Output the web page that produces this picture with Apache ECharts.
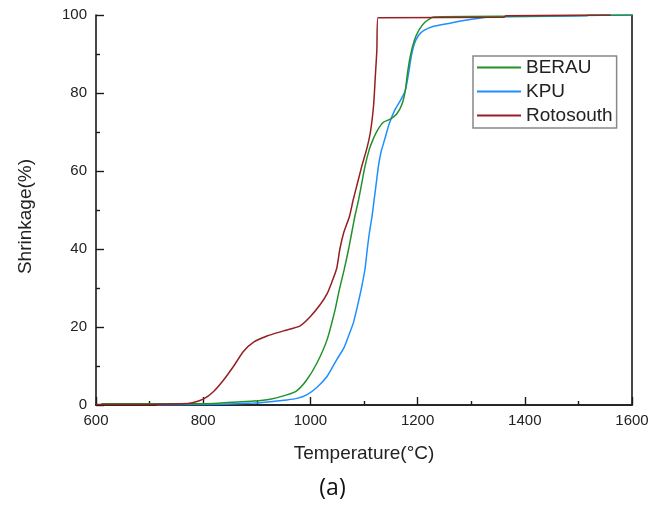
<!DOCTYPE html>
<html>
<head>
<meta charset="utf-8">
<script src="https://cdn.jsdelivr.net/npm/echarts@6/dist/echarts.min.js"></script>
<style>
html,body{margin:0;padding:0;background:#fff;}
#chart{width:665px;height:508px;}
</style>
</head>
<body>
<div id="chart"></div>
<script>
const seriesNames = ['BERAU', 'KPU', 'Rotosouth'];
const xTicks = [600, 800, 1000, 1200, 1400, 1600];
const yTicks = [0, 20, 40, 60, 80, 100];

const berau = [
  [610,0.3],[700,0.3],[800,0.3],[832,0.5],[894,1.0],[925,1.5],[956,2.6],[975,3.7],
  [993,6.4],[1012,10.7],[1031,16.7],[1046,24.4],[1054,29.6],[1063,34.7],[1071,39.8],
  [1077,44.1],[1083,48.4],[1090,52.7],[1096,57],[1102,61.3],[1110,65.6],[1116,67.8],
  [1125,70.4],[1136,72.5],[1149,73.3],[1161,74.6],[1171,77.2],[1177,80.6],[1181,84.9],
  [1186,89.2],[1194,93.5],[1202,96],[1214,98.2],[1230,99.5],[1400,99.7],[1600,100]
];
const kpu = [
  [713,0.0],[800,0.1],[832,0.2],[894,0.5],[925,0.85],[956,1.3],[975,1.7],[993,2.6],
  [1012,4.5],[1031,7.3],[1049,11.6],[1062,14.5],[1072,18],[1080,21],[1088,25.5],
  [1096,30.5],[1102,35],[1106,39.8],[1110,44.1],[1115,48.4],[1119,52.7],[1123,57],
  [1127,61.3],[1132,65],[1138,67.8],[1147,72.1],[1157,75.5],[1168,78.1],[1177,80.6],
  [1183,84.9],[1188,89.2],[1194,92.6],[1202,94.8],[1211,96],[1230,97.1],[1261,97.9],
  [1286,98.6],[1336,99.5],[1516,99.8],[1518,100],[1600,100]
];
const rotosouth = [
  [600,0.1],[700,0.1],[760,0.3],[780,0.6],[800,1.5],[819,3.4],[838,6.4],[856,9.8],
  [875,13.7],[894,16.1],[919,17.7],[950,19.0],[981,20.3],[1000,22.7],[1018,25.7],
  [1031,28.5],[1040,31.5],[1049,35],[1055,40],[1062,44.1],[1073,48.4],[1080,52.7],
  [1088,57],[1096,61.3],[1105,65.6],[1112,70],[1118,77],[1121,84],[1124,91],
  [1126,99.3],[1360,99.4],[1365,99.8],[1560,100]
];

const colors = ['#23912a', '#1e8fff', '#951f22'];
const font = '"Liberation Sans", Arial, sans-serif';

const chart = echarts.init(document.getElementById('chart'), null, {renderer: 'canvas'});

const axisLine = {show: true, lineStyle: {color: '#1a1a1a', width: 1.6}};

chart.setOption({
  backgroundColor: '#fff',
  animation: false,
  grid: {left: 96, right: 33, top: 15, bottom: 103},
  legend: {
    orient: 'vertical',
    left: 473, top: 56,
    data: seriesNames,
    icon: 'rect',
    itemWidth: 44, itemHeight: 2,
    itemGap: 5,
    padding: [2, 4, 3, 4],
    borderColor: '#888', borderWidth: 1.5,
    backgroundColor: '#fff',
    textStyle: {fontFamily: font, fontSize: 19, color: '#222'}
  },
  xAxis: [{
    type: 'value', min: xTicks[0], max: xTicks[xTicks.length-1], interval: 200,
    axisLine: axisLine,
    axisTick: {show: true, inside: true, length: 8, lineStyle: {color: '#1a1a1a', width: 1.4}},
    minorTick: {show: true, splitNumber: 2, length: 4, lineStyle: {color: '#1a1a1a', width: 1.4}},
    splitLine: {show: false},
    axisLabel: {fontFamily: font, fontSize: 15, color: '#222', margin: 8, formatter: v => String(v)},
    name: 'Temperature(°C)', nameLocation: 'middle', nameGap: 39,
    nameTextStyle: {fontFamily: font, fontSize: 19, color: '#222'}
  }, {
    type: 'value', position: 'top', min: 600, max: 1600,
    axisLine: axisLine, axisTick: {show: false}, axisLabel: {show: false}, splitLine: {show: false}
  }],
  yAxis: [{
    type: 'value', min: yTicks[0], max: yTicks[yTicks.length-1], interval: 20,
    axisLine: axisLine,
    axisTick: {show: true, inside: true, length: 8, lineStyle: {color: '#1a1a1a', width: 1.4}},
    minorTick: {show: true, splitNumber: 2, length: 4, lineStyle: {color: '#1a1a1a', width: 1.4}},
    splitLine: {show: false},
    axisLabel: {fontFamily: font, fontSize: 15, color: '#222', margin: 9, formatter: v => String(v)},
    name: 'Shrinkage(%)', nameLocation: 'middle', nameGap: 61,
    nameTextStyle: {fontFamily: font, fontSize: 19, color: '#222', padding: [0, 13, 0, 0]}
  }, {
    type: 'value', position: 'right', min: 0, max: 100,
    axisLine: axisLine, axisTick: {show: false}, axisLabel: {show: false}, splitLine: {show: false}
  }],
  graphic: [{
    type: 'text', left: 'center', top: 477,
    style: {text: '(a)', font: '23px "Open Sans", sans-serif', fill: '#111'}
  }],
  series: [
    {name: seriesNames[0], type: 'line', data: berau, symbol: 'none', smooth: 0.2,
     lineStyle: {color: colors[0], width: 1.5}, itemStyle: {color: colors[0]}, z: 3},
    {name: seriesNames[1], type: 'line', data: kpu, symbol: 'none', smooth: 0.2,
     lineStyle: {color: colors[1], width: 1.5}, itemStyle: {color: colors[1]}, z: 2},
    {name: seriesNames[2], type: 'line', data: rotosouth, symbol: 'none', smooth: 0.2,
     lineStyle: {color: colors[2], width: 1.5}, itemStyle: {color: colors[2]}, z: 4}
  ]
});
</script>
</body>
</html>
